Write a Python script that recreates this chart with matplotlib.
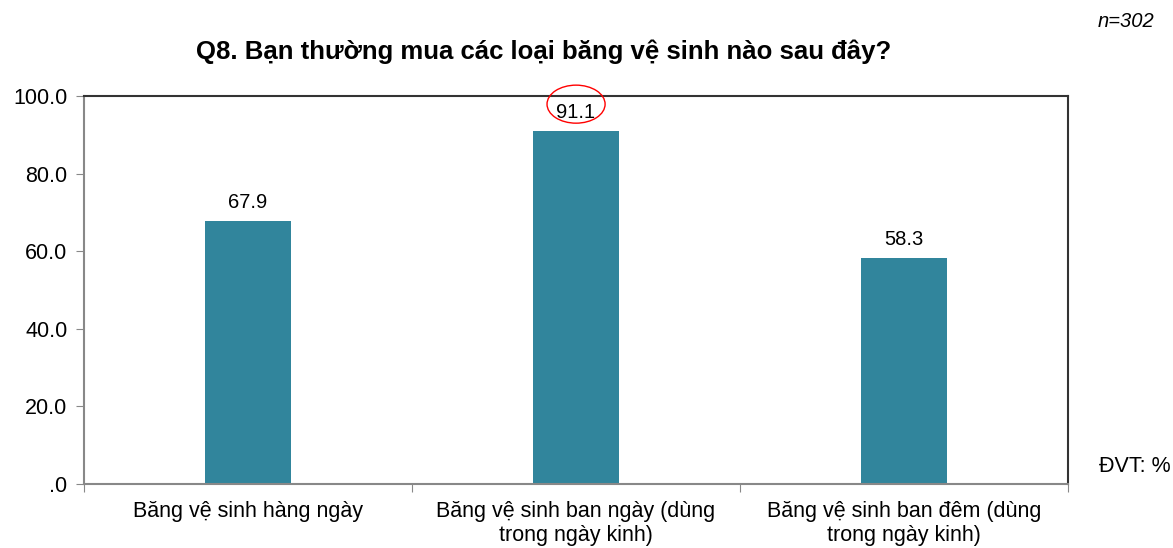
import matplotlib
matplotlib.use("Agg")
import matplotlib.pyplot as plt
from matplotlib.patches import Ellipse
import numpy as np

categories = ["Băng vệ sinh hàng ngày",
              "Băng vệ sinh ban ngày (dùng\ntrong ngày kinh)",
              "Băng vệ sinh ban đêm (dùng\ntrong ngày kinh)"]
values = [67.9, 91.1, 58.3]
yticks = [0, 20, 40, 60, 80, 100]
ytick_labels = [".0", "20.0", "40.0", "60.0", "80.0", "100.0"]

plt.rcParams['font.family'] = ['Liberation Sans', 'DejaVu Sans']

fig = plt.figure(figsize=(11.73, 5.48), dpi=100)
ax = fig.add_axes([0.0716, 0.1168, 0.839, 0.708])

x = np.arange(len(values))
ax.bar(x, values, width=0.26, color="#31859c", zorder=2)
for xi, v in zip(x, values):
    ax.annotate(f"{v:.1f}", (xi, v), xytext=(0, 6), textcoords="offset points",
                ha="center", va="bottom", fontsize=14.5)

# red circle round the highest value
ax.add_patch(Ellipse((1, 97.9), 0.177, 9.8, fill=False, edgecolor="red",
                     linewidth=1.0, clip_on=False, zorder=3))

ax.set_xlim(-0.5, 2.5)
ax.set_ylim(0, 100)
ax.set_yticks(yticks)
ax.set_yticklabels(ytick_labels, fontsize=15.5)
ax.set_xticks([-0.5, 0.5, 1.5, 2.5])
ax.set_xticklabels([])
ax.set_xticks(x, minor=True)
ax.set_xticklabels(categories, minor=True, fontsize=15.5)
ax.tick_params(axis="x", which="minor", length=0, pad=12)
ax.tick_params(axis="x", which="major", length=6, color="#888888")
ax.tick_params(axis="y", length=6, color="#888888", pad=6)

for s in ["left", "bottom"]:
    ax.spines[s].set_color("#888888")
    ax.spines[s].set_linewidth(1.5)
for s in ["top", "right"]:
    ax.spines[s].set_color("#333333")
    ax.spines[s].set_linewidth(1.5)

fig.text(0.4634, 0.905, "Q8. Bạn thường mua các loại băng vệ sinh nào sau đây?",
         ha="center", va="center", fontsize=18.5, fontweight="bold")
fig.text(0.984, 0.96, "n=302", ha="right", va="center", fontsize=14.5, style="italic")
fig.text(0.998, 0.148, "ĐVT: %", ha="right", va="center", fontsize=15.5)

fig.savefig("out.png", dpi=100)
